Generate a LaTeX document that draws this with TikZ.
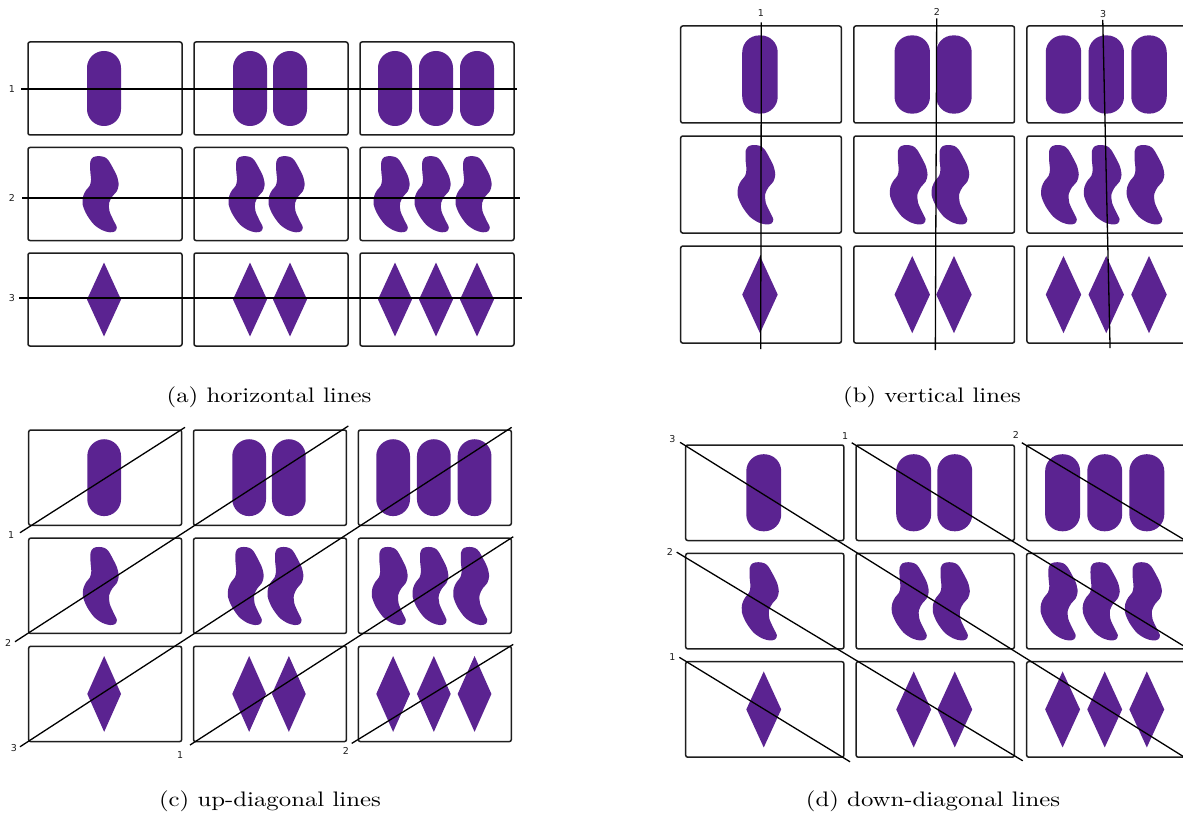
\documentclass[tikz,border=0pt]{standalone}
\usepackage{fontspec}
\newfontfamily\labfont{DejaVu Sans}
\newfontfamily\capfont{lmroman10-regular}[Extension=.otf]
\usetikzlibrary{calc}
\definecolor{setpurple}{RGB}{91,35,145}
\definecolor{cardedge}{RGB}{30,30,30}
\tikzset{
  card/.style={draw=cardedge, line width=1.5pt, rounded corners=2pt, fill=white},
  sym/.style={fill=setpurple},
  setline/.style={draw=black, line width=1.3pt},
  lab/.style={font=\labfont\fontsize{9.5}{10}\selectfont, text=cardedge, inner sep=0pt},
  captext/.style={font=\capfont\fontsize{21}{24}\selectfont, inner sep=0pt},
}
\newcommand\shpill[1]{\fill[sym,rounded corners=16.9pt] ({#1-17},9) rectangle ({#1+17},84);}
\newcommand\shdiam[1]{\fill[sym] (#1,9.5) -- ({#1+17},46.5) -- (#1,83.5) -- ({#1-17},46.5) -- cycle;}
\newcommand\shsquig[1]{\fill[sym,shift={({#1-3.5},46.5)},xscale=1.1] plot[smooth cycle,tension=0.5] coordinates {
  (-9.2,-32.7) (-6.5,-36.9) (-1.5,-37.9) (3.6,-36.9) (7.2,-33.7) (11.3,-26) (15,-17.7) (16.5,-9.3)
  (14.8,-2.7) (10.8,2.3) (7.8,9) (8.2,17.3) (11.8,26.3) (14.8,33.3) (13.2,37.3) (8.5,38.3)
  (1.8,36.3) (-5.8,30.7) (-12.5,20.7) (-16.2,10.7) (-15.8,2.3) (-13.2,-3.7) (-9.8,-8.3)
  (-8.6,-14.3) (-9.3,-22.7)};}
\newcommand\cardat[5]{%
  \begin{scope}[shift={({166*#2},{105.5*#3})}]
    \draw[card] (0,0) rectangle (154,93);
    \coordinate (#1-#2#3) at (77,46.5);
    \ifcase#4\or
      \csname sh#5\endcsname{76}%
    \or
      \csname sh#5\endcsname{56}\csname sh#5\endcsname{96}%
    \or
      \csname sh#5\endcsname{35}\csname sh#5\endcsname{76}\csname sh#5\endcsname{117}%
    \fi
  \end{scope}}
\newcommand\cardgrid[1]{%
  \cardat{#1}{0}{0}{1}{pill}\cardat{#1}{1}{0}{2}{pill}\cardat{#1}{2}{0}{3}{pill}%
  \cardat{#1}{0}{1}{1}{squig}\cardat{#1}{1}{1}{2}{squig}\cardat{#1}{2}{1}{3}{squig}%
  \cardat{#1}{0}{2}{1}{diam}\cardat{#1}{1}{2}{2}{diam}\cardat{#1}{2}{2}{3}{diam}}
\newcommand\setln[5]{%
  \coordinate (#1-s) at #2;
  \coordinate (#1-e) at #3;
  \node[lab] (#1-lab) at #4 {#5};
  \draw[setline] (#1-s) -- (#1-e);}
\begin{document}
\begin{tikzpicture}[x=1pt,y=-1pt]
\useasboundingbox (0,0) rectangle (1183,813);
% (a) horizontal lines
\begin{scope}[shift={(28,42)}]
  \cardgrid{a}
  \setln{a1}{(-7,47)}{(489,47)}{(-16,47)}{1}
  \setln{a2}{(-6,156)}{(492,156)}{(-16,156)}{2}
  \setln{a3}{(-8.7,256)}{(494,256)}{(-16,256)}{3}
\end{scope}
% (b) vertical lines
\begin{scope}[shift={(680.7,26)}, scale=1.043]
  \cardgrid{b}
  \setln{b1}{(77.3,-3.5)}{(76.7,309.7)}{(77,-12.5)}{1}
  \setln{b2}{(245.4,-7.4)}{(244.1,310.6)}{(245.7,-13.4)}{2}
  \setln{b3}{(404.6,-5.8)}{(411.6,308.7)}{(405,-11.5)}{3}
\end{scope}
% (c) up-diagonal lines
\begin{scope}[shift={(28.7,430)}, xscale=0.993, yscale=1.025]
  \cardgrid{c}
  \setln{c1}{(-8.8,100.2)}{(157.4,-2.6)}{(-17.8,102.4)}{1}
  \setln{c2}{(-13.8,206.5)}{(321.9,-3.9)}{(-20.8,207.5)}{2}
  \setln{c3}{(-8.8,309)}{(486.4,-2.6)}{(-14.8,310)}{3}
  \setln{c1b}{(162.4,307.3)}{(488,104.1)}{(152.4,317)}{1}
  \setln{c2b}{(325.3,305.7)}{(488,209.1)}{(319.5,313)}{2}
\end{scope}
% (d) down-diagonal lines
\begin{scope}[shift={(685.7,445)}, scale=1.027]
  \cardgrid{d}
  \setln{d3}{(-5.5,-2.6)}{(500,313)}{(-13,-5.8)}{3}
  \setln{d2}{(-8.8,104.3)}{(328.1,307.4)}{(-15.3,104.4)}{2}
  \setln{d2b}{(327.2,-2.2)}{(500,101)}{(321.5,-9.7)}{2}
  \setln{d1}{(-6.2,206.7)}{(160,308.4)}{(-13,206.7)}{1}
  \setln{d1b}{(161.6,-2.2)}{(500,205)}{(155.2,-8.8)}{1}
\end{scope}
% captions
\node[captext] (capa) at (269,397.2) {\scalebox{1.18}[1]{(a) horizontal lines}};
\node[captext] (capb) at (932,397.2) {\scalebox{1.18}[1]{(b) vertical lines}};
\node[captext] (capc) at (270,801) {\scalebox{1.18}[1]{(c) up-diagonal lines}};
\node[captext] (capd) at (933,801) {\scalebox{1.18}[1]{(d) down-diagonal lines}};
\end{tikzpicture}
\end{document}
